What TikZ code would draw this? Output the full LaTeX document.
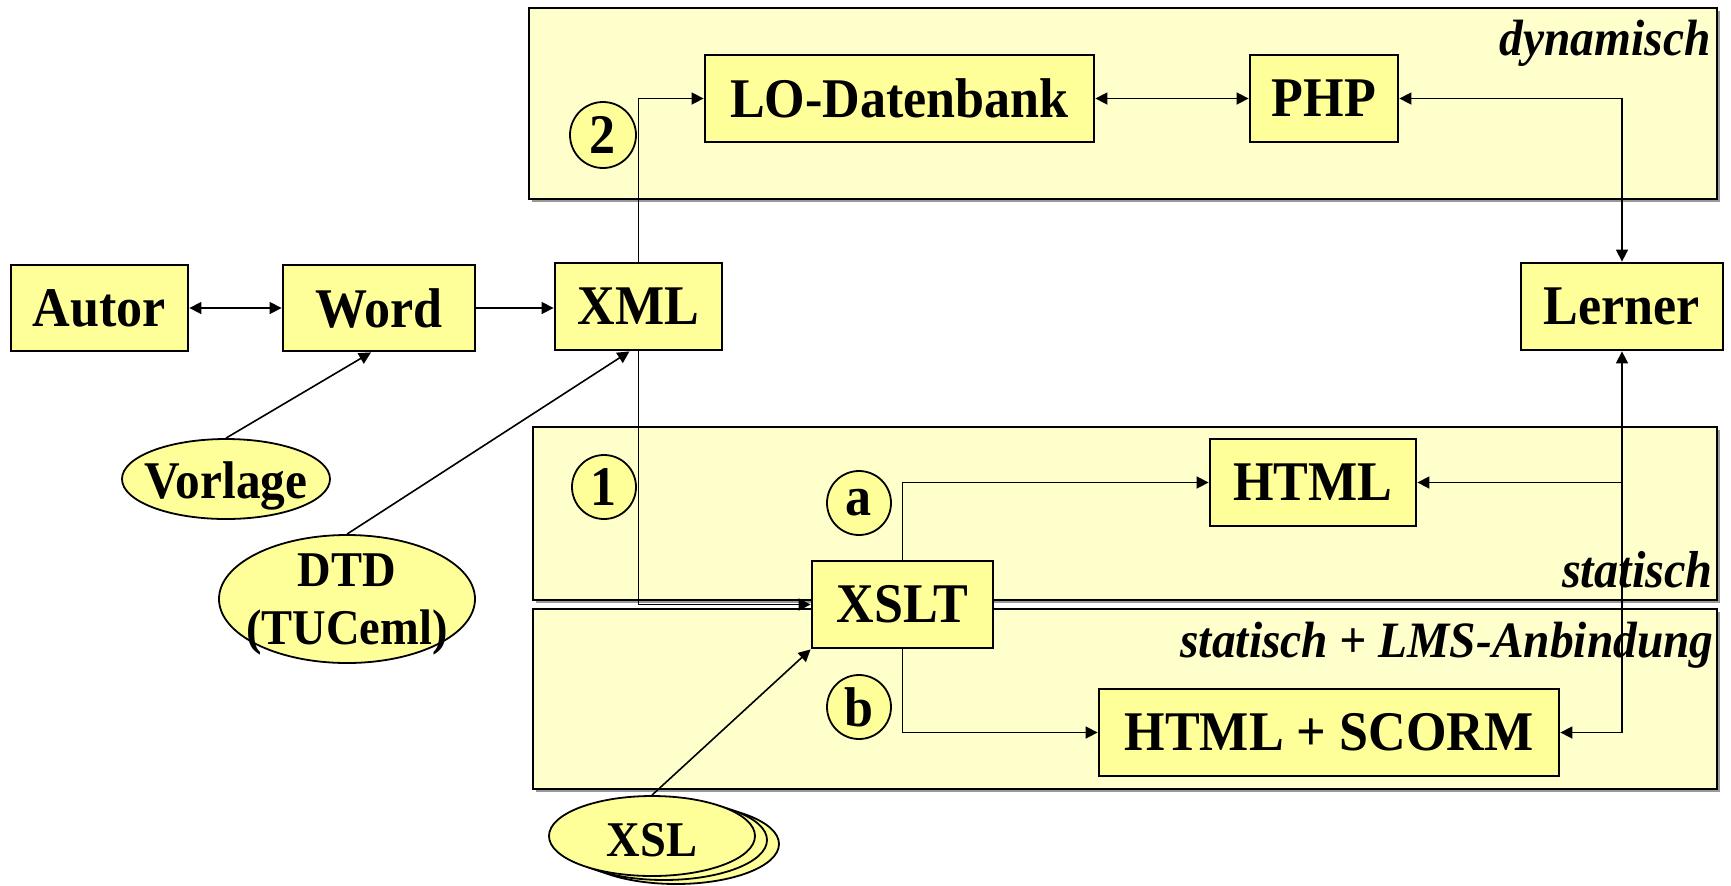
\documentclass[tikz,border=0pt]{standalone}
\usepackage{fontspec}
\setmainfont{Liberation Serif}[FakeStretch=0.93]
\usetikzlibrary{shapes.geometric,arrows.meta,calc}
\definecolor{boxy}{HTML}{FFFF99}
\definecolor{pany}{HTML}{FFFFCC}
\definecolor{shad}{HTML}{999999}
\begin{document}
\begin{tikzpicture}[x=0.5pt,y=-0.5pt,
  box/.style={draw, line width=1.4pt, fill=boxy, inner sep=0pt, font=\fontsize{28}{32}\selectfont\bfseries},
  ell/.style={ellipse, draw, line width=0.9pt, fill=boxy, inner sep=0pt},
  elltext/.style={inner sep=0pt, font=\fontsize{25}{29}\selectfont\bfseries, align=center},
  circ/.style={ellipse, draw, line width=0.9pt, fill=boxy, inner sep=0pt, minimum width=32pt, minimum height=32pt, font=\fontsize{28}{30}\selectfont\bfseries},
  panel/.style={draw, line width=1pt, fill=pany},
  panshadow/.style={fill=shad},
  panlab/.style={inner sep=0pt, font=\fontsize{25}{28}\selectfont\bfseries\itshape},
  conn/.style={line width=0.8pt, -{Triangle[length=6pt,width=6pt]}},
  conntwo/.style={line width=0.8pt, {Triangle[length=6pt,width=6pt]}-{Triangle[length=6pt,width=6pt]}}
]
\useasboundingbox (0,0) rectangle (1731,885);
% panels
\path[panshadow] (532,11) rectangle (1720,202);
\path[panshadow] (536,430) rectangle (1720,603);
\path[panshadow] (536,612) rectangle (1720,792);
\path[panel] (529,8) rectangle (1717,199);
\path[panel] (533,427) rectangle (1717,600);
\path[panel] (533,609) rectangle (1717,789);
\node[panlab, anchor=base east, font=\fontsize{25.5}{28}\selectfont\bfseries\itshape] (dynL) at (1711,55) {dynamisch};
\node[panlab, anchor=base east, font=\fontsize{26}{28}\selectfont\bfseries\itshape] (statL) at (1713,587) {statisch};
\node[panlab, anchor=base east, font=\fontsize{25.5}{28}\selectfont\bfseries\itshape] (lmsL) at (1714,657) {statisch + LMS-Anbindung};
% boxes
\node[box, minimum width=88.5pt, minimum height=43pt] (autor) at (99.5,308) {Autor};
\node[box, minimum width=96pt, minimum height=43pt] (word) at (379,308) {Word};
\node[box, minimum width=83.5pt, minimum height=43.5pt] (xml) at (638.5,306.5) {XML};
\node[box, minimum width=101pt, minimum height=43.5pt] (lerner) at (1622,306.5) {Lerner};
\node[box, minimum width=194.5pt, minimum height=43.5pt] (lo) at (899.5,98.5) {LO-Datenbank};
\node[box, minimum width=74pt, minimum height=43.5pt] (php) at (1324,98.5) {PHP};
\node[box, minimum width=103pt, minimum height=43.5pt] (html) at (1313,482.5) {HTML};
\node[box, minimum width=90.5pt, minimum height=43.5pt] (xslt) at (902.5,604.5) {XSLT};
\node[box, minimum width=230pt, minimum height=43.5pt] (scorm) at (1329,732.5) {HTML + SCORM};
% circles
\node[circ, minimum width=33pt, minimum height=33pt] (c2) at (603,135) {2};
\node[circ] (c1) at (604,487) {1};
\node[circ] (ca) at (859,503) {a};
\node[circ] (cb) at (859,707) {b};
% ellipses
\node[ell, minimum width=104pt, minimum height=40pt] (vorlage) at (226,479) {};
\node[elltext, font=\fontsize{26.5}{29}\selectfont\bfseries] (vorlageT) at (226,486) {Vorlage};
\node[ell, minimum width=128pt, minimum height=64pt] (dtd) at (347,599) {};
\node[elltext, font=\fontsize{25}{29}\selectfont\bfseries] (dtdT) at (347,604) {DTD\\(TUCeml)};
\node[ell, minimum width=103pt, minimum height=40pt] (xslC) at (676,844) {};
\node[ell, minimum width=103pt, minimum height=40pt] (xslB) at (664,840) {};
\node[ell, minimum width=103pt, minimum height=40pt] (xsl) at (652,836) {};
\node[elltext] (xslT) at (652,840) {XSL};
% connectors
\draw[conntwo] (autor) -- (word);
\draw[conn] (word.east) -- (word.east -| xml.west);
\draw[conn] (vorlage.north) -- ($(word.south)+(-8,0)$);
\draw[conn] (dtd.north) -- ($(xml.south)+(-9,0)$);
\draw[conn] (xml.north) |- (lo.west);
\draw[conntwo] (lo) -- (php);
\draw[conntwo] (lerner.north) |- (php.east);
\draw[conn] (xml.south) |- (xslt.west);
\draw[conn] (xslt.north) |- (html.west);
\draw[conn] (xslt.south) |- (scorm.west);
\coordinate (lb) at (lerner.south |- scorm.east);
\coordinate (lh) at (lerner.south |- html.east);
\draw[conn] (lb) -- (lerner.south);
\draw[conn] (lh) -- (html.east);
\draw[conn] (lb) -- (scorm.east);
\draw[conn] (xsl.north) -- (xslt.south west);
\end{tikzpicture}
\end{document}
